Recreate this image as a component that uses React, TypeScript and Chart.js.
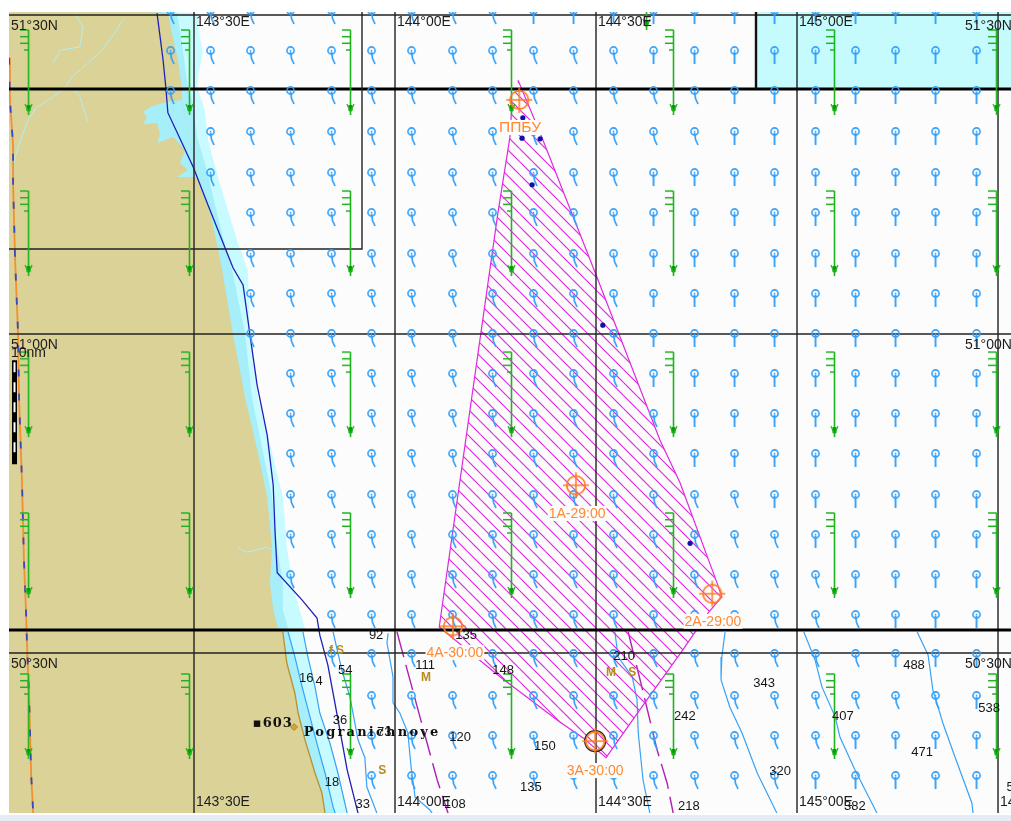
import React, { useEffect, useRef } from "react";
import { Chart, registerables } from "chart.js";

Chart.register(...registerables);

type P = [number, number];

// ---- chart frame (degrees) ----
const lonMin = 143.0398, lonMax = 145.5323, latMin = 50.2493, latMax = 51.5048;

// ---- graticule ----
const meridians = [143.5, 144.0, 144.5, 145.0, 145.5];
const parallels = [51.5, 51.0, 50.5];
const heavyParallels = [51.3841, 50.5361];
const meridianLabelsTop = ["143°30E", "144°00E", "144°30E", "145°00E"];
const meridianLabelsBottom = ["143°30E", "144°00E", "144°30E", "145°00E", "145°30E"];
const parallelLabels = ["51°30N", "51°00N", "50°30N"];

// ---- coverage cells ----
const cellBox: P[] = [[143.9179, 51.56], [143.9179, 51.1333], [143.0, 51.1333]];
const cellDivider: P[] = [[144.898, 51.56], [144.898, 51.3841]];
const cyanCell: P[] = [[144.898, 51.56], [145.6, 51.56], [145.6, 51.3841], [144.898, 51.3841]];

// ---- shoreline & depth bands ----
const landEdge: P[] = [[143.435,51.503],[143.445,51.472],[143.46,51.43],[143.47,51.386],[143.47,51.367],[143.498,51.278],[143.515,51.231],[143.54,51.19],[143.56,51.132],[143.57,51.1],[143.597,51.0],[143.627,50.901],[143.659,50.814],[143.682,50.745],[143.694,50.666],[143.689,50.61],[143.697,50.568],[143.709,50.539],[143.721,50.533],[143.731,50.484],[143.751,50.437],[143.759,50.406],[143.776,50.364],[143.789,50.337],[143.801,50.312],[143.818,50.281],[143.826,50.249]];
const shoreLine: P[] = [[143.721,50.533],[143.731,50.484],[143.751,50.437],[143.759,50.406],[143.776,50.364],[143.789,50.337],[143.801,50.312],[143.818,50.281],[143.826,50.249]];
const shallowEdge: P[] = [[143.458,51.503],[143.465,51.477],[143.478,51.419],[143.485,51.387],[143.495,51.367],[143.508,51.309],[143.532,51.257],[143.557,51.19],[143.582,51.127],[143.595,51.1],[143.627,51.0],[143.644,50.901],[143.672,50.814],[143.694,50.745],[143.707,50.666],[143.721,50.61],[143.721,50.568],[143.734,50.539],[143.734,50.533],[143.751,50.494],[143.769,50.447],[143.784,50.411],[143.808,50.353],[143.826,50.312],[143.846,50.259],[143.851,50.249]];
const paleEdge: P[] = [[143.508,51.503],[143.515,51.466],[143.522,51.441],[143.51,51.403],[143.508,51.387],[143.527,51.351],[143.535,51.304],[143.557,51.252],[143.582,51.199],[143.609,51.143],[143.634,51.1],[143.639,51.0],[143.659,50.901],[143.694,50.814],[143.721,50.745],[143.731,50.666],[143.744,50.61],[143.756,50.583],[143.776,50.539],[143.771,50.533],[143.784,50.492],[143.801,50.447],[143.813,50.406],[143.838,50.359],[143.858,50.312],[143.881,50.249]];
const landCorners: P[] = [[143.0,50.24],[143.0,51.52]];
const lagoon: P[] = [[143.433,51.364],[143.391,51.356],[143.373,51.348],[143.383,51.34],[143.373,51.329],[143.408,51.331],[143.415,51.315],[143.41,51.3],[143.448,51.309],[143.478,51.289],[143.465,51.268],[143.485,51.257],[143.458,51.246],[143.508,51.246],[143.47,51.367]];
const riverA: P[] = [[143.047,51.252],[143.055,51.278],[143.075,51.315],[143.087,51.335],[143.109,51.356],[143.147,51.37],[143.179,51.386],[143.197,51.403],[143.236,51.425],[143.266,51.441],[143.303,51.472],[143.323,51.492]];
const riverB: P[] = [[143.149,51.425],[143.167,51.445],[143.216,51.45],[143.224,51.481],[143.204,51.503]];
const riverC: P[] = [[143.197,51.386],[143.216,51.372],[143.236,51.332]];
const riverD: P[] = [[143.609,50.665],[143.632,50.658],[143.682,50.666],[143.697,50.662]];

// ---- depth contours ----
const contourA: P[] = [[143.734,50.533],[143.751,50.494],[143.769,50.447],[143.784,50.411],[143.808,50.353],[143.826,50.312],[143.846,50.259],[143.851,50.249]];
const contourB: P[] = [[143.771,50.533],[143.784,50.492],[143.801,50.447],[143.813,50.406],[143.838,50.359],[143.858,50.312],[143.881,50.249]];
const contourC: P[] = [[143.983,50.531],[143.98,50.516],[143.995,50.463],[143.995,50.422],[144.012,50.406],[144.032,50.375],[144.04,50.321],[144.05,50.274],[144.087,50.254],[144.092,50.249]];
const contourD: P[] = [[143.846,50.533],[143.868,50.473],[143.888,50.431],[143.908,50.364],[143.925,50.336],[143.93,50.29],[143.955,50.249]];
const contourE: P[] = [[144.547,50.533],[144.555,50.494],[144.59,50.463],[144.602,50.427],[144.605,50.375],[144.617,50.301],[144.634,50.249]];
const contourF: P[] = [[144.821,50.533],[144.813,50.494],[144.811,50.458],[144.833,50.415],[144.863,50.375],[144.901,50.312],[144.95,50.249]];
const contourG: P[] = [[145.017,50.533],[145.045,50.489],[145.062,50.447],[145.095,50.4],[145.107,50.368],[145.144,50.317],[145.199,50.249]];
const contourH: P[] = [[145.299,50.533],[145.326,50.497],[145.338,50.442],[145.363,50.39],[145.393,50.337],[145.435,50.265],[145.438,50.249]];
const depthContours = [contourA, contourB, contourC, contourD, contourE, contourF, contourG, contourH];

// ---- routed lines ----
const limitWest: P[] = [[144.005,50.533],[144.025,50.486],[144.062,50.4],[144.105,50.301],[144.132,50.249]];
const limitEast: P[] = [[144.58,50.533],[144.614,50.447],[144.634,50.395],[144.652,50.348],[144.677,50.296],[144.692,50.249]];
const territorialLine: P[] = [[143.408,51.503],[143.423,51.43],[143.43,51.386],[143.435,51.347],[143.498,51.262],[143.535,51.202],[143.597,51.104],[143.622,51.077],[143.639,51.0],[143.657,50.92],[143.682,50.842],[143.697,50.763],[143.702,50.685],[143.707,50.626],[143.769,50.583],[143.806,50.555],[143.813,50.528],[143.833,50.481],[143.856,50.403],[143.881,50.317],[143.908,50.249]];
const westTrack: P[] = [[143.04,51.433],[143.042,51.367],[143.05,51.296],[143.05,51.234],[143.055,51.116],[143.062,51.006],[143.065,50.897],[143.072,50.771],[143.077,50.646],[143.082,50.568],[143.085,50.505],[143.09,50.427],[143.095,50.309],[143.1,50.249]];

// ---- survey area ----
const surveyArea: P[] = [[144.306,51.398],[144.363,51.312],[144.5,51.093],[144.659,50.834],[144.709,50.767],[144.801,50.61],[144.813,50.588],[144.779,50.563],[144.716,50.505],[144.627,50.427],[144.525,50.336],[144.468,50.367],[144.41,50.392],[144.261,50.463],[144.11,50.541],[144.256,51.19],[144.286,51.309],[144.291,51.362]];
const waypoints: P[] = [[144.45,50.763],[144.789,50.593],[144.498,50.362],[144.144,50.542],[144.309,51.367]];
const ringedWaypoint: P[] = [[144.498,50.362]];
const waypointNames = ["1A-29:00", "2A-29:00", "3A-30:00", "4A-30:00", "ППБУ"];
const waypointLabelAt: P[] = [[144.453,50.718],[144.791,50.549],[144.498,50.315],[144.149,50.5],[144.311,51.323]];
const vesselDots: P[] = [[144.316,51.307],[144.361,51.306],[144.341,51.234],[144.517,51.014],[144.734,50.672],[144.318,51.339]];

// ---- wind barbs (north-end of shaft) ----
const windLons = [143.0871, 143.4875, 143.888, 144.2885, 144.6915, 145.092, 145.495];
const windLats = [51.4766, 51.2242, 50.9717, 50.7196, 50.4672];
const windExtra: P[] = [[144.6244, 51.6098]];

// ---- current arrows ----
const currentLons = [143.4403,143.5398,143.6393,143.7388,143.8408,143.9403,144.0398,144.1418,144.2413,144.3433,144.4428,144.5423,144.6418,144.7438,144.8433,144.9428,145.0448,145.1443,145.2438,145.3433,145.4453];
const currentLats = [51.5079,51.4452,51.3825,51.3183,51.254,51.1913,51.127,51.0644,51.0017,50.939,50.8763,50.8136,50.7493,50.6866,50.6239,50.5612,50.5001,50.4343,50.3716,50.3089];
const currentFirstColumn = [0,0,0,1,1,2,2,2,2,3,3,3,3,3,3,4,4,5,5,5];
const currentStraightFrom = [9,12,14,14,12,12,12,12,12,12,13,13,15,16,17,18,18,20,17,16];

// ---- soundings ----
const soundingTexts = ["92","135","111","54","16","4","148","210","343","488","242","407","36","73","120","150","538","471","18","135","320","33","108","218","382","5"];
const soundingLons = [143.953,144.177,144.075,143.876,143.779,143.811,144.269,144.57,144.918,145.291,144.721,145.114,143.863,143.973,144.162,144.373,145.478,145.311,143.843,144.338,144.958,143.92,144.149,144.731,145.144,145.53];
const soundingLats = [50.527,50.527,50.48,50.473,50.461,50.456,50.472,50.494,50.453,50.48,50.401,50.4,50.395,50.376,50.368,50.354,50.414,50.345,50.298,50.29,50.315,50.262,50.262,50.26,50.26,50.29];
const seabedTexts = ["f","S","M","S","M","S"];
const seabedLons = [143.841,143.863,144.077,143.968,144.537,144.59];
const seabedLats = [50.503,50.503,50.461,50.315,50.469,50.469];

// ---- place names & scale ----
const summitText = "▪603";
const summitAt: P = [143.696, 50.39];
const townText = "Pogranichnoye";
const townAt: P = [143.943, 50.376];
const townMark: P[] = [[143.749, 50.384]];
const scaleBar: P[] = [[143.0535, 50.959], [143.0535, 50.796]];
const scaleDashes: P[] = [[143.0535, 50.956], [143.0535, 50.80]];
const scaleText = "10nm";
const scaleTextAt: P = [143.0398, 50.97];

const pts = (a: P[]) => a.map(([x, y]) => ({ x, y }));
const polyline = (a: P[], color: string, width: number, dash: number[] = []) => ({
  type: "line", data: pts(a), borderColor: color, borderWidth: width, borderDash: dash,
  pointRadius: 0, fill: false, clip: 0,
});
const polygon = (a: P[], color: any, edge = "transparent", width = 0) => ({
  type: "line", data: pts(a), backgroundColor: color, borderColor: edge, borderWidth: width,
  pointRadius: 0, fill: "shape", clip: 0,
});
const glyphs = (a: { x: number; y: number }[], style: any, radius: number) => ({
  type: "line", data: a, showLine: false, pointStyle: style, pointRadius: radius, clip: 0,
});

function makeCanvas(w: number, h: number, paint: (c: CanvasRenderingContext2D) => void) {
  const el = document.createElement("canvas");
  el.width = w; el.height = h;
  paint(el.getContext("2d")!);
  return el;
}
function stroke(c: CanvasRenderingContext2D, pairs: number[][], color: string, w: number) {
  c.strokeStyle = color; c.lineWidth = w; c.beginPath();
  pairs.forEach(([x, y], i) => (i ? c.lineTo(x, y) : c.moveTo(x, y)));
  c.stroke();
}
const currentBlue = "#35a0f8";
function currentGlyph(bent: boolean) {
  return makeCanvas(40, 40, (c) => {
    c.translate(20.5, 20.5);
    c.strokeStyle = currentBlue; c.lineWidth = 1.6;
    c.beginPath(); c.arc(0, 0, 3.6, 0, Math.PI * 2); c.stroke();
    c.fillStyle = currentBlue; c.fillRect(-0.7, -0.7, 1.4, 1.4);
    if (bent) stroke(c, [[0, 1], [1, 8], [3.5, 13.5]], currentBlue, 1.7);
    else stroke(c, [[0, 1], [0, 13.5]], currentBlue, 1.9);
  });
}
function windGlyph() {
  return makeCanvas(24, 180, (c) => {
    c.translate(12.5, 90);
    const g = "#1fb41f";
    stroke(c, [[0, 0], [0, 85]], g, 1.6);
    [[0, 8.5], [6.7, 8.5], [13.3, 8.5], [20, 4.5]].forEach(([y, l]) => stroke(c, [[-l, y], [0, y]], g, 1.5));
    c.fillStyle = "#00a000"; c.fillRect(-2, 75, 4, 6);
    stroke(c, [[-3.5, 74], [0, 82]], g, 1.2);
    stroke(c, [[3.5, 74], [0, 82]], g, 1.2);
  });
}
function waypointGlyph() {
  return makeCanvas(40, 40, (c) => {
    c.translate(20, 20);
    const o = "#ff7c20";
    c.strokeStyle = o; c.lineWidth = 1.7;
    c.beginPath(); c.arc(0, 0, 9.2, 0, Math.PI * 2); c.stroke();
    stroke(c, [[-13, 0], [13, 0]], o, 1.5);
    stroke(c, [[0, -13], [0, 13]], o, 1.5);
  });
}
function hatchPattern(c: CanvasRenderingContext2D) {
  const tile = makeCanvas(13, 13, (t) => {
    const m = "#e028e0";
    [7, -6, 20].forEach((o) => stroke(t, [[o - 2, -2], [o + 15, 15]], m, 1.2));
  });
  return c.createPattern(tile, "repeat");
}

const mapText = {
  id: "mapText",
  beforeDatasetsDraw(chart: any) {
    const { ctx, chartArea: a } = chart;
    ctx.save();
    ctx.fillStyle = "#fcfcfc";
    ctx.fillRect(a.left, a.top, a.right - a.left, a.bottom - a.top);
    ctx.restore();
  },
  afterDatasetsDraw(chart: any) {
    const { ctx, scales } = chart;
    const X = (v: number) => scales.x.getPixelForValue(v);
    const Y = (v: number) => scales.y.getPixelForValue(v);
    ctx.save();
    ctx.textBaseline = "middle";
    // soundings
    ctx.font = "13px 'Liberation Sans'"; ctx.fillStyle = "#161616"; ctx.textAlign = "center";
    soundingTexts.forEach((t, i) => ctx.fillText(t, X(soundingLons[i]), Y(soundingLats[i])));
    // seabed
    ctx.font = "bold 12px 'Liberation Sans'"; ctx.fillStyle = "#b98a1c";
    seabedTexts.forEach((t, i) => ctx.fillText(t, X(seabedLons[i]), Y(seabedLats[i])));
    // graticule labels
    ctx.font = "14px 'Liberation Sans'"; ctx.fillStyle = "#1c1c1c"; ctx.textAlign = "left";
    meridianLabelsTop.forEach((t, i) => ctx.fillText(t, X(meridians[i]) + 2, 22));
    meridianLabelsBottom.forEach((t, i) => ctx.fillText(t, X(meridians[i]) + 2, 802));
    parallelLabels.forEach((t, i) => {
      ctx.fillText(t, 11, Y(parallels[i]) + 11);
      ctx.fillText(t, 965, Y(parallels[i]) + 11);
    });
    ctx.fillText(scaleText, X(scaleTextAt[0]) + 2, Y(scaleTextAt[1]));
    // places
    ctx.fillStyle = "#111"; ctx.textAlign = "center";
    ctx.font = "bold 13px 'DejaVu Serif'";
    ctx.letterSpacing = "1px";
    ctx.fillText(summitText, X(summitAt[0]), Y(summitAt[1]));
    ctx.letterSpacing = "2.2px";
    ctx.fillText(townText, X(townAt[0]), Y(townAt[1]));
    ctx.letterSpacing = "0px";
    // waypoint labels on white plates
    waypointNames.forEach((t, i) => {
      ctx.font = t === "ППБУ" ? "15.5px 'Liberation Sans'" : "14px 'Liberation Sans'";
      const x = X(waypointLabelAt[i][0]), y = Y(waypointLabelAt[i][1]);
      const w = ctx.measureText(t).width + 2;
      ctx.fillStyle = "#fcfcfc";
      ctx.fillRect(x - w / 2, y - 8, w, 15);
      ctx.fillStyle = "#ff8a34";
      ctx.fillText(t, x, y);
    });
    ctx.restore();
  },
};

export default function App() {
  const ref = useRef<HTMLCanvasElement>(null);
  useEffect(() => {
    const canvas = ref.current!;
    const ctx = canvas.getContext("2d")!;
    const bent: { x: number; y: number }[] = [];
    const straight: { x: number; y: number }[] = [];
    currentLats.forEach((y, r) =>
      currentLons.forEach((x, c) => {
        if (c < currentFirstColumn[r]) return;
        (c >= currentStraightFrom[r] ? straight : bent).push({ x, y });
      })
    );
    const winds: { x: number; y: number }[] = [...pts(windExtra)];
    windLats.forEach((y) => windLons.forEach((x) => winds.push({ x, y })));

    const layers: any[] = [
      polygon(cyanCell, "#c6fbfd"),
      polygon([...paleEdge, ...landCorners], "#c8fbff"),
      polygon([...shallowEdge, ...landCorners], "#a6eef9"),
      polygon([...landEdge, ...landCorners], "#dad296"),
      polygon(lagoon, "#a6eef9"),
      polyline(riverA, "#b4eef2", 1),
      polyline(riverB, "#b4eef2", 1),
      polyline(riverC, "#b4eef2", 1),
      polyline(riverD, "#b4eef2", 1),
      polyline(shoreLine, "#b8922e", 1.3),
      ...depthContours.map((c) => polyline(c, "#38a2f6", 1.2)),
      polyline(limitWest, "#b020b4", 1.4, [26, 8]),
      polyline(limitEast, "#b020b4", 1.4, [26, 8]),
      polyline(territorialLine, "#2020b8", 1.3),
      polyline(westTrack, "#f29032", 1.8),
      polyline(westTrack, "#3a48c0", 1.8, [7, 17]),
      polygon(surveyArea, hatchPattern(ctx), "#e028e0", 1.2),
      ...meridians.map((lon) => polyline([[lon, 51.6], [lon, 50.2]], "#222", 1.4)),
      ...parallels.map((lat) => polyline([[143, lat], [145.6, lat]], "#222", 1.4)),
      ...heavyParallels.map((lat) => polyline([[143, lat], [145.6, lat]], "#000", 3)),
      polyline(cellBox, "#222", 1.4),
      polyline(cellDivider, "#111", 2.4),
      glyphs(bent, currentGlyph(true), 25),
      glyphs(straight, currentGlyph(false), 25),
      glyphs(winds, windGlyph(), 100),
      { type: "line", data: pts(vesselDots), showLine: false, pointRadius: 2.6, pointBackgroundColor: "#1010b0", pointBorderWidth: 0, clip: 0 },
      polyline(scaleBar, "#000", 5),
      polyline(scaleDashes, "#fff", 2, [10, 10]),
      { type: "line", data: pts(townMark), showLine: false, pointStyle: "rectRot", pointRadius: 3.5, pointBackgroundColor: "#cfa23a", pointBorderColor: "#b98a1c", pointBorderWidth: 1, clip: 0 },
      { type: "line", data: pts(ringedWaypoint), showLine: false, pointRadius: 10.5, pointBackgroundColor: "transparent", pointBorderColor: "#222", pointBorderWidth: 1.3, clip: 0 },
      glyphs(pts(waypoints), waypointGlyph(), 25),
    ];

    const chart = new Chart(canvas, {
      type: "line",
      data: { datasets: [...layers].reverse() },
      options: {
        animation: false,
        responsive: false,
        events: [],
        devicePixelRatio: 1,
        layout: { autoPadding: false, padding: { left: 9, top: 12, right: 0, bottom: 8 } },
        scales: {
          x: { type: "linear", min: lonMin, max: lonMax, display: false },
          y: { type: "linear", min: latMin, max: latMax, display: false },
        },
        plugins: { legend: { display: false }, tooltip: { enabled: false } },
      },
      plugins: [mapText],
    } as any);
    return () => chart.destroy();
  }, []);

  return (
    <div style={{ position: "absolute", left: 0, top: 0, width: 1011, height: 821, overflow: "hidden", background: "#fff" }}>
      <div style={{ position: "absolute", left: 0, top: 815, width: 1011, height: 6, background: "#e6ecf4" }} />
      <canvas ref={ref} width={1011} height={821} style={{ position: "absolute", left: 0, top: 0, display: "block", filter: "blur(0.4px)" }} />
    </div>
  );
}
